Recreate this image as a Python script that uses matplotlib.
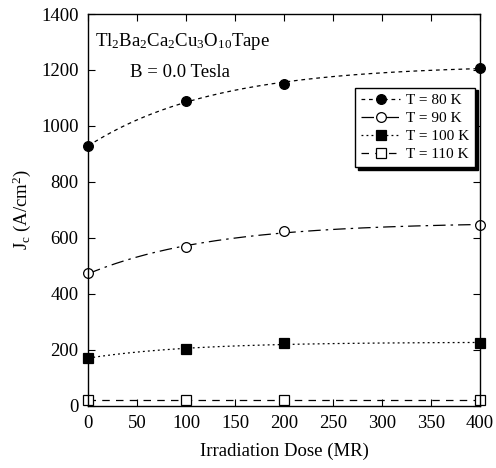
import matplotlib.pyplot as plt
import numpy as np

plt.rcParams['font.family'] = 'Liberation Serif'
plt.rcParams['mathtext.fontset'] = 'custom'
plt.rcParams['mathtext.rm'] = 'Liberation Serif'
plt.rcParams['mathtext.it'] = 'Liberation Serif'

dose = [0, 100, 200, 400]
jc_80 = [928, 1090, 1150, 1208]
jc_90 = [473, 567, 625, 645]
jc_100 = [171, 202, 224, 224]
jc_110 = [21, 21, 21, 21]
labels = ['T = 80 K', 'T = 90 K', 'T = 100 K', 'T = 110 K']


def satfit(x, y):
    # y = a - b*exp(-x/c), pick c by grid search
    x = np.asarray(x, float)
    y = np.asarray(y, float)
    best = None
    for c in np.linspace(20, 600, 300):
        A = np.column_stack([np.ones_like(x), -np.exp(-x / c)])
        coef, res, _, _ = np.linalg.lstsq(A, y, rcond=None)
        err = np.sum((A @ coef - y) ** 2)
        if best is None or err < best[0]:
            best = (err, coef, c)
    _, (a, b), c = best
    xs = np.linspace(0, 400, 200)
    return xs, a - b * np.exp(-xs / c)


fig, ax = plt.subplots(figsize=(4.96, 4.68), dpi=100)
fig.subplots_adjust(left=0.178, right=0.968, top=0.970, bottom=0.133)

styles = [
    dict(marker='o', mfc='black', ls=(0, (3, 3))),
    dict(marker='o', mfc='white', ls=(0, (10, 4, 2, 4))),
    dict(marker='s', mfc='black', ls=(0, (1.5, 2.5))),
    dict(marker='s', mfc='white', ls=(0, (6, 5))),
]

for y, lab, st in zip([jc_80, jc_90, jc_100, jc_110], labels, styles):
    xs, ys = satfit(dose, y) if lab != 'T = 110 K' else (np.array([0, 400]), np.array([y[0], y[-1]]))
    ax.plot(xs, ys, color='black', lw=0.9, ls=st['ls'])
    ax.plot(dose, y, ls='none', marker=st['marker'], mfc=st['mfc'], mec='black',
            ms=7, mew=0.9, clip_on=False)

# legend handles
handles = []
for lab, st in zip(labels, styles):
    h, = ax.plot([], [], color='black', lw=0.9, ls=st['ls'], marker=st['marker'],
                 mfc=st['mfc'], mec='black', ms=7, mew=0.9)
    handles.append(h)
leg = ax.legend(handles, labels, loc='upper right', bbox_to_anchor=(0.995, 0.82),
                fontsize=11, frameon=True, fancybox=False, shadow={'color': 'black', 'alpha': 1},
                edgecolor='black', handlelength=2.5, borderpad=0.4, labelspacing=0.28,
                handletextpad=0.4, borderaxespad=0.2)
leg.get_frame().set_linewidth(1.0)

ax.set_xlim(0, 400)
ax.set_ylim(0, 1400)
ax.set_xticks(np.arange(0, 401, 50))
ax.set_yticks(np.arange(0, 1401, 200))
ax.tick_params(direction='in', top=True, right=True, labelsize=13.5, length=5, width=0.8, pad=7)
for sp in ax.spines.values():
    sp.set_linewidth(1.0)

ax.set_xlabel('Irradiation Dose (MR)', fontsize=13.5, labelpad=7)
ax.set_ylabel(r'J$_\mathrm{c}$ (A/cm$^2$)', fontsize=13.5, labelpad=6)

ax.text(0.018, 0.931, r'Tl$_2$Ba$_2$Ca$_2$Cu$_3$O$_{10}$Tape', transform=ax.transAxes,
        fontsize=13.5, va='center', ha='left')
ax.text(0.235, 0.852, 'B = 0.0 Tesla', transform=ax.transAxes,
        fontsize=13.5, va='center', ha='center')

fig.savefig('out.png', dpi=100)
